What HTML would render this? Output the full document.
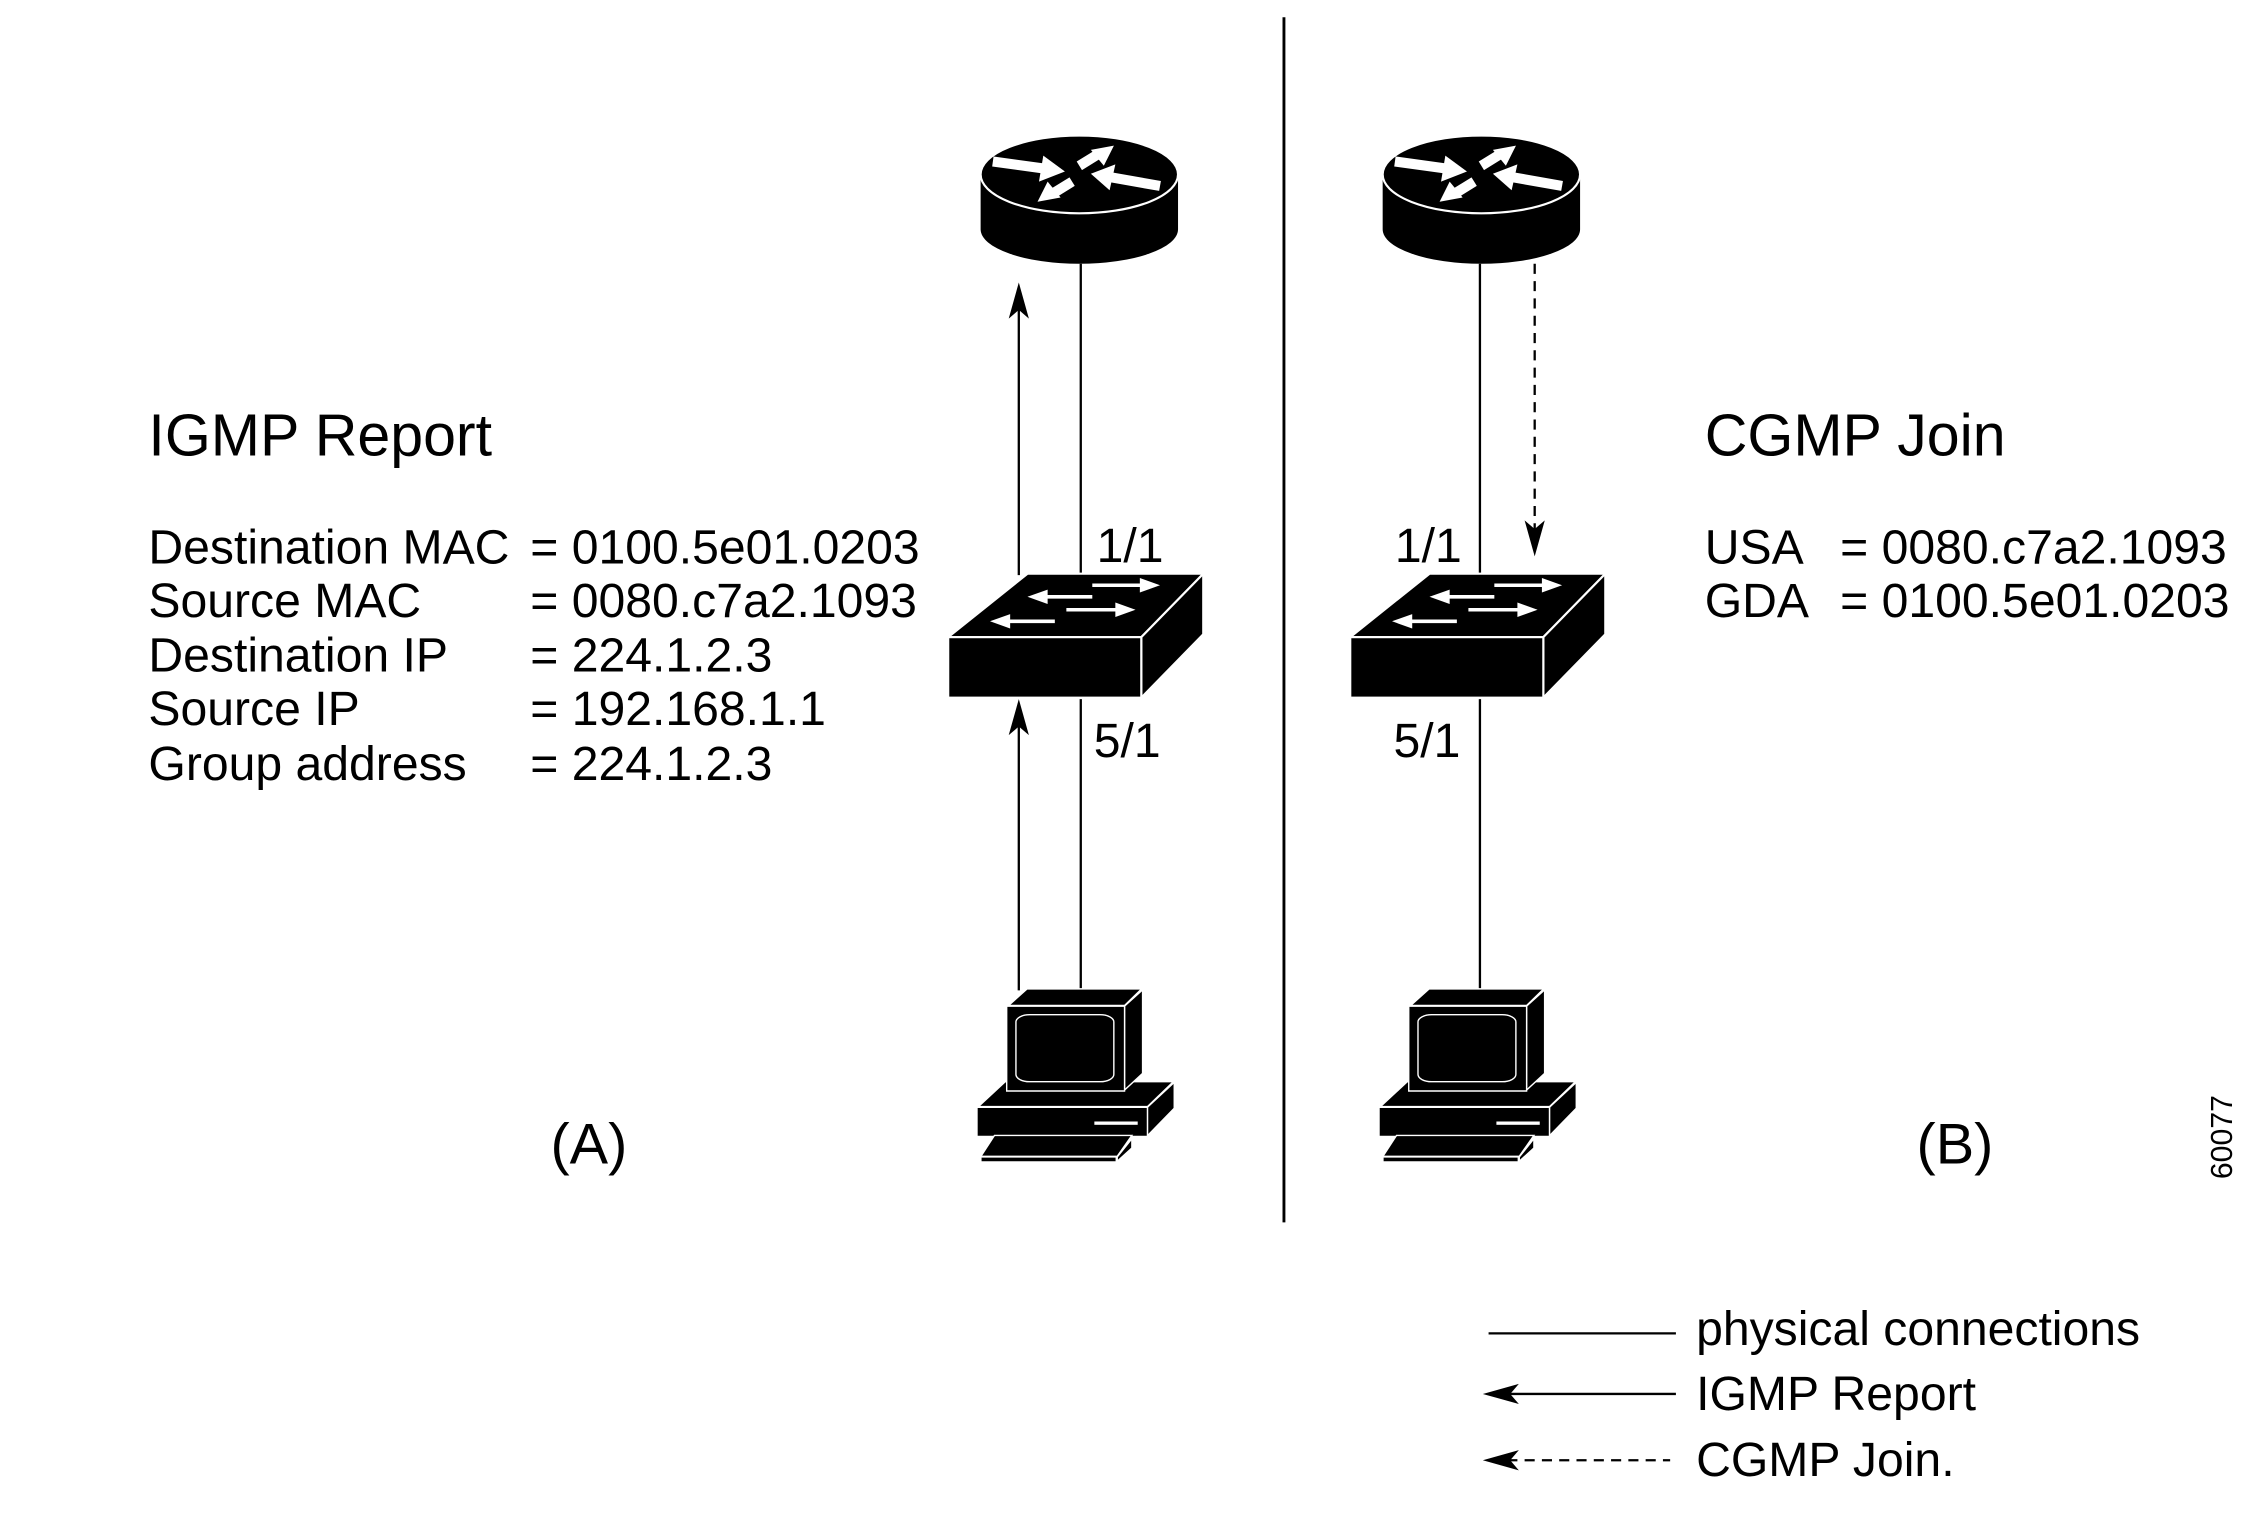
<!DOCTYPE html>
<html><head><meta charset="utf-8"><style>
html,body{margin:0;padding:0;background:#fff;}
svg{display:block;}
text{font-family:"Liberation Sans",Arial,sans-serif;fill:#000;}
</style></head><body>
<svg width="2248" height="1528" viewBox="0 0 1560 1060" preserveAspectRatio="none" xmlns="http://www.w3.org/2000/svg">
<defs>
<g id="router">
  <path d="M-68.5,0 L-68.5,38 A68.5,24 0 0 0 68.5,38 L68.5,0 Z" fill="#000"/>
  <ellipse cx="0" cy="0" rx="68.5" ry="27" fill="#000" stroke="#fff" stroke-width="1.5"/>
  <g stroke="#fff" stroke-width="7" fill="#fff">
    <line x1="-60" y1="-9" x2="-24" y2="-4"/>
    <polygon points="-10,-2 -28,5 -25,-13" stroke="none"/>
    <line x1="0" y1="-6" x2="13" y2="-14"/>
    <polygon points="24,-20 17,-6 8,-17" stroke="none"/>
    <line x1="-5" y1="5" x2="-18" y2="13"/>
    <polygon points="-29,19 -22,5 -13,16" stroke="none"/>
    <line x1="56" y1="8" x2="22" y2="2"/>
    <polygon points="8,-0.5 25,-7 21,11" stroke="none"/>
  </g>
</g>
<g id="switch">
  <polygon points="0,44 55,0 177,0 134,44" fill="#000" stroke="#fff" stroke-width="1.5"/>
  <polygon points="134,44 177,0 177,42 134,86" fill="#000" stroke="#fff" stroke-width="1.5"/>
  <rect x="0" y="44" width="134" height="42" fill="#000" stroke="#fff" stroke-width="1.5"/>
  <g stroke="#fff" stroke-width="2.5" fill="#fff">
    <line x1="100" y1="8" x2="136" y2="8"/><polygon points="147,8 133,3 133,13" stroke="none"/>
    <line x1="100" y1="16" x2="66" y2="16"/><polygon points="55,16 69,11 69,21" stroke="none"/>
    <line x1="82" y1="25" x2="119" y2="25"/><polygon points="130,25 116,20 116,30" stroke="none"/>
    <line x1="74" y1="33" x2="40" y2="33"/><polygon points="29,33 43,28 43,38" stroke="none"/>
  </g>
</g>
<g id="pc">
  <g transform="translate(-163,-100)">
  <g fill="#000" stroke="#fff" stroke-width="1.4">
    <polygon points="160,455 215,380 560,380 507,455" vector-effect="non-scaling-stroke"/>
    <polygon points="507,457 562,382 562,460 507,543" vector-effect="non-scaling-stroke"/>
    <rect x="157" y="457" width="350" height="88" vector-effect="non-scaling-stroke"/>
    <polygon points="222,150 260,100 495,100 460,150" vector-effect="non-scaling-stroke"/>
    <polygon points="460,152 497,103 497,355 460,405" vector-effect="non-scaling-stroke"/>
    <rect x="218" y="152" width="242" height="256" vector-effect="non-scaling-stroke"/>
    <rect x="237" y="178" width="201" height="202" rx="28" ry="22" vector-effect="non-scaling-stroke"/>
    <polygon points="165,605 193,542 475,542 445,605" vector-effect="non-scaling-stroke"/>
    <polygon points="445,607 475,552 475,580 445,620" vector-effect="non-scaling-stroke"/>
    <rect x="165" y="607" width="278" height="15" vector-effect="non-scaling-stroke"/>
  </g>
  <rect x="398" y="500" width="89" height="10" fill="#fff"/>
  </g>
</g>
</defs>

<g transform="translate(-4,-3)">
<!-- divider -->
<line x1="895" y1="15" x2="895" y2="851" stroke="#000" stroke-width="2"/>

<!-- Panel A -->
<use href="#router" x="753" y="124"/>
<line x1="754" y1="186" x2="754" y2="402" stroke="#000" stroke-width="1.6"/>
<line x1="711" y1="212" x2="711" y2="402" stroke="#000" stroke-width="1.6"/>
<polygon points="711,199 718,224 711,218 704,224" fill="#000"/>
<use href="#switch" x="662" y="401"/>
<line x1="754" y1="488" x2="754" y2="690" stroke="#000" stroke-width="1.6"/>
<line x1="711" y1="502" x2="711" y2="690" stroke="#000" stroke-width="1.6"/>
<polygon points="711,488 718,513 711,507 704,513" fill="#000"/>
<g transform="translate(684,689) scale(0.338,0.23)"><use href="#pc"/></g>

<!-- Panel B -->
<use href="#router" x="1032" y="124"/>
<line x1="1031" y1="186" x2="1031" y2="402" stroke="#000" stroke-width="1.6"/>
<line x1="1069" y1="186" x2="1069" y2="374" stroke="#000" stroke-width="1.6" stroke-dasharray="7,5"/>
<polygon points="1069,389 1062,364 1069,370 1076,364" fill="#000"/>
<use href="#switch" x="941" y="401"/>
<line x1="1031" y1="488" x2="1031" y2="690" stroke="#000" stroke-width="1.6"/>
<g transform="translate(963,689) scale(0.338,0.23)"><use href="#pc"/></g>

<!-- Text A -->
<text x="107" y="319" font-size="41">IGMP Report</text>
<g font-size="33.4">
<text x="107" y="394">Destination MAC</text><text x="372" y="394">= 0100.5e01.0203</text>
<text x="107" y="431">Source MAC</text><text x="372" y="431">= 0080.c7a2.1093</text>
<text x="107" y="469">Destination IP</text><text x="372" y="469">= 224.1.2.3</text>
<text x="107" y="506">Source IP</text><text x="372" y="506">= 192.168.1.1</text>
<text x="107" y="544">Group address</text><text x="372" y="544">= 224.1.2.3</text>
<text x="765" y="393">1/1</text>
<text x="763" y="528">5/1</text>
<text x="972" y="393">1/1</text>
<text x="971" y="528">5/1</text>
</g>
<text x="386" y="810" font-size="40">(A)</text>

<!-- Text B -->
<text x="1187" y="319" font-size="41">CGMP Join</text>
<g font-size="33.4">
<text x="1187" y="394">USA</text><text x="1281" y="394">= 0080.c7a2.1093</text>
<text x="1187" y="431">GDA</text><text x="1281" y="431">= 0100.5e01.0203</text>
</g>
<text x="1334" y="810" font-size="40">(B)</text>
<text transform="translate(1553,821) rotate(-90)" font-size="21">60077</text>

<!-- Legend -->
<line x1="1037" y1="928" x2="1167" y2="928" stroke="#000" stroke-width="1.6"/>
<text x="1181" y="936" font-size="33.4">physical connections</text>
<line x1="1050" y1="970" x2="1167" y2="970" stroke="#000" stroke-width="1.6"/>
<polygon points="1033,970 1058,963 1052,970 1058,977" fill="#000"/>
<text x="1181" y="981" font-size="33.4">IGMP Report</text>
<line x1="1050" y1="1016" x2="1163" y2="1016" stroke="#000" stroke-width="1.6" stroke-dasharray="7,5"/>
<polygon points="1033,1016 1058,1009 1052,1016 1058,1023" fill="#000"/>
<text x="1181" y="1027" font-size="33.4">CGMP Join.</text>
</g>
</svg>
</body></html>
